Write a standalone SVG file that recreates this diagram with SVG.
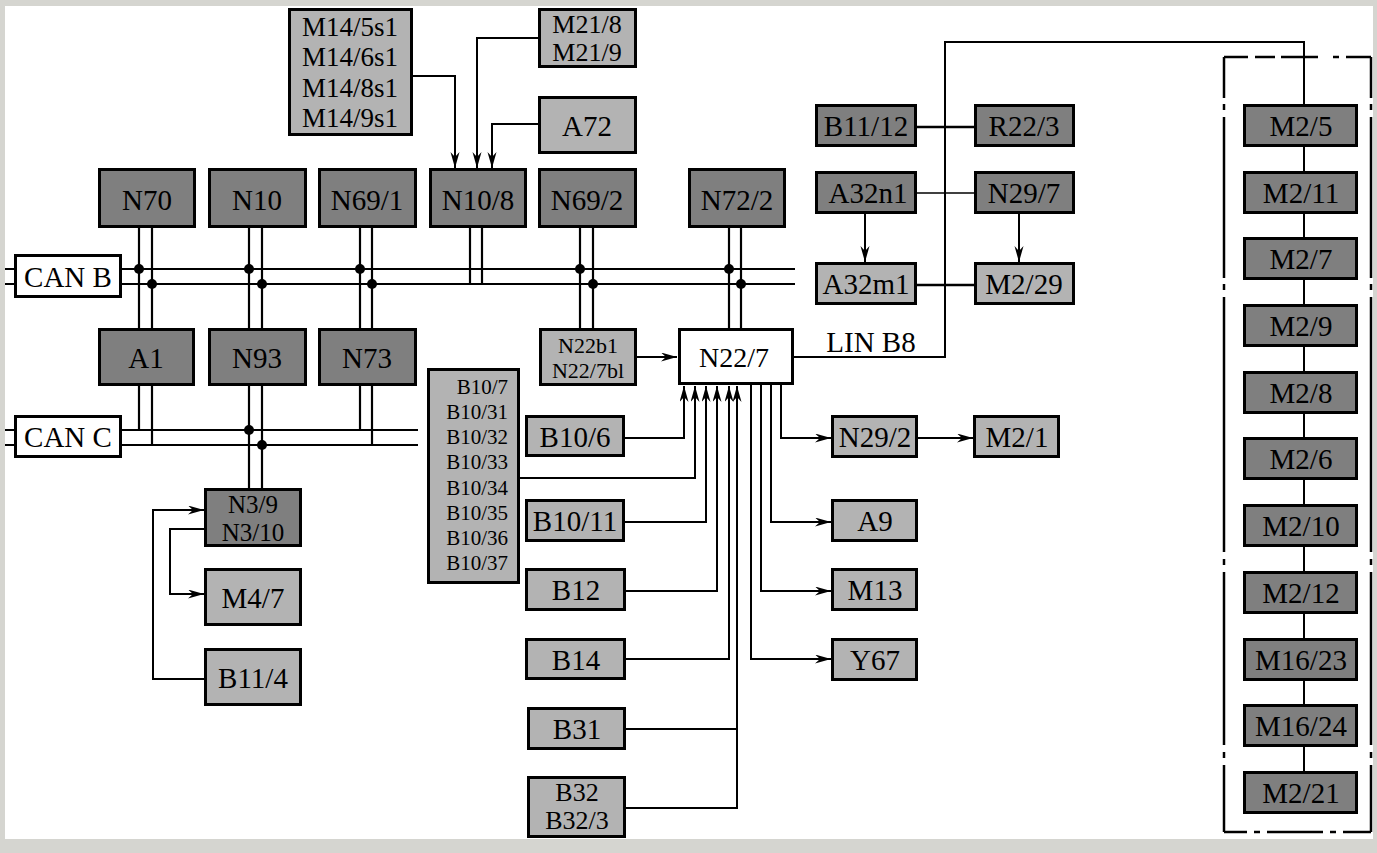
<svg xmlns="http://www.w3.org/2000/svg" width="1377" height="853" viewBox="0 0 1377 853">
<style>
.n rect{stroke:#000;stroke-width:3}
.d rect{fill:#7f7f7f}
.l rect{fill:#b3b3b3}
.w rect{fill:#fff}
text{font-family:"Liberation Serif","Times New Roman",serif;font-size:29px;fill:#000;text-anchor:middle}
.s text{font-size:22px}
.t text{font-size:21px;text-anchor:end}
.m text{font-size:26px}
.c path,.c line{fill:none;stroke:#000;stroke-width:2}
.bus line{stroke:#000;stroke-width:2.2}
.dot{fill:#000}
.frame line{stroke:#000;stroke-width:2.5}
</style>
<defs>
<marker id="ar" markerUnits="userSpaceOnUse" markerWidth="18" markerHeight="10" refX="16" refY="4.5" orient="auto">
<path d="M0,0 L16,4.5 L0,9 L5,4.5 Z" fill="#000"/>
</marker>
</defs>
<rect x="0" y="0" width="1377" height="853" fill="#d5d5d0"/>
<rect x="5" y="6" width="1368" height="833" fill="#fff"/>

<g id="frame" class="frame">
<line x1="1224" y1="57" x2="1248" y2="57"/><line x1="1255" y1="57" x2="1275" y2="57"/><line x1="1281" y1="57" x2="1318" y2="57"/><line x1="1333" y1="57" x2="1339" y2="57"/><line x1="1346" y1="57" x2="1371" y2="57"/>
<line x1="1224" y1="57" x2="1224" y2="98"/><line x1="1224" y1="104" x2="1224" y2="110"/><line x1="1224" y1="117" x2="1224" y2="278"/><line x1="1224" y1="284" x2="1224" y2="290"/><line x1="1224" y1="297" x2="1224" y2="552"/><line x1="1224" y1="559" x2="1224" y2="565"/><line x1="1224" y1="572" x2="1224" y2="745"/><line x1="1224" y1="752" x2="1224" y2="758"/><line x1="1224" y1="765" x2="1224" y2="832"/>
<line x1="1371" y1="57" x2="1371" y2="98"/><line x1="1371" y1="104" x2="1371" y2="110"/><line x1="1371" y1="117" x2="1371" y2="278"/><line x1="1371" y1="284" x2="1371" y2="290"/><line x1="1371" y1="297" x2="1371" y2="552"/><line x1="1371" y1="559" x2="1371" y2="565"/><line x1="1371" y1="572" x2="1371" y2="745"/><line x1="1371" y1="752" x2="1371" y2="758"/><line x1="1371" y1="765" x2="1371" y2="832"/>
<line x1="1224" y1="832" x2="1247" y2="832"/><line x1="1254" y1="832" x2="1260" y2="832"/><line x1="1267" y1="832" x2="1323" y2="832"/><line x1="1330" y1="832" x2="1336" y2="832"/><line x1="1343" y1="832" x2="1371" y2="832"/>
</g>

<g id="connectors" class="c">
<g class="bus">
<line x1="5" y1="269" x2="795" y2="269"/>
<line x1="5" y1="284" x2="795" y2="284"/>
<line x1="5" y1="430" x2="418" y2="430"/>
<line x1="5" y1="445" x2="418" y2="445"/>
<line x1="139" y1="228" x2="139" y2="328"/><line x1="152" y1="228" x2="152" y2="328"/>
<line x1="139" y1="386" x2="139" y2="430"/><line x1="152" y1="386" x2="152" y2="445"/>
<line x1="249" y1="228" x2="249" y2="328"/><line x1="262" y1="228" x2="262" y2="328"/>
<line x1="249" y1="386" x2="249" y2="488"/><line x1="262" y1="386" x2="262" y2="488"/>
<line x1="360" y1="228" x2="360" y2="328"/><line x1="372" y1="228" x2="372" y2="328"/>
<line x1="360" y1="386" x2="360" y2="430"/><line x1="372" y1="386" x2="372" y2="445"/>
<line x1="470" y1="228" x2="470" y2="284"/><line x1="482" y1="228" x2="482" y2="284"/>
<line x1="580" y1="228" x2="580" y2="328"/><line x1="593" y1="228" x2="593" y2="328"/>
<line x1="729" y1="228" x2="729" y2="328"/><line x1="741" y1="228" x2="741" y2="328"/>
</g>
<circle class="dot" cx="139" cy="269" r="5"/><circle class="dot" cx="152" cy="284" r="5"/>
<circle class="dot" cx="249" cy="269" r="5"/><circle class="dot" cx="262" cy="284" r="5"/>
<circle class="dot" cx="360" cy="269" r="5"/><circle class="dot" cx="372" cy="284" r="5"/>
<circle class="dot" cx="580" cy="269" r="5"/><circle class="dot" cx="593" cy="284" r="5"/>
<circle class="dot" cx="729" cy="269" r="5"/><circle class="dot" cx="741" cy="284" r="5"/>
<circle class="dot" cx="249" cy="430" r="5"/><circle class="dot" cx="262" cy="445" r="5"/>

<path d="M413,76 H455 V168" marker-end="url(#ar)"/>
<path d="M538,38 H477 V168" marker-end="url(#ar)"/>
<path d="M538,124 H492 V168" marker-end="url(#ar)"/>
<path d="M637,357 H677" marker-end="url(#ar)"/>
<path d="M625,438 H684 V386" marker-end="url(#ar)"/>
<path d="M520,478 H695 V386" marker-end="url(#ar)"/>
<path d="M625,522 H706 V386" marker-end="url(#ar)"/>
<path d="M626,591 H717 V386" marker-end="url(#ar)"/>
<path d="M626,659 H729 V386" marker-end="url(#ar)"/>
<path d="M626,729 H737"/>
<path d="M626,808 H737 V386" marker-end="url(#ar)"/>
<path d="M781,385 V438 H831" marker-end="url(#ar)"/>
<path d="M771,385 V522 H831" marker-end="url(#ar)"/>
<path d="M761,385 V591 H831" marker-end="url(#ar)"/>
<path d="M751,385 V659 H831" marker-end="url(#ar)"/>
<path d="M918,438 H973" marker-end="url(#ar)"/>
<path d="M794,357 H945 V42 H1304 V104"/>
<path d="M1304,147 V771"/>
<path d="M917,127 H974" style="stroke-width:2.5"/>
<path d="M917,193 H974" style="stroke-width:1.5"/>
<path d="M917,285 H974" style="stroke-width:2.5"/>
<path d="M865,214 V262" marker-end="url(#ar)"/>
<path d="M1019,214 V262" marker-end="url(#ar)"/>
<path d="M204,679 H153 V510 H204" marker-end="url(#ar)"/>
<path d="M204,529 H170 V594 H204" marker-end="url(#ar)"/>
</g>

<g id="CAN_B" class="n w"><rect x="15.5" y="255.5" width="105" height="41"/><text x="68" y="287">CAN B</text></g>
<g id="CAN_C" class="n w"><rect x="15.5" y="416.5" width="105" height="40"/><text x="68" y="447">CAN C</text></g>

<g id="M14" class="n l"><rect x="289.5" y="9.5" width="122" height="125"/><text x="350" y="36" style="font-size:27px">M14/5s1</text><text x="350" y="66" style="font-size:27px">M14/6s1</text><text x="350" y="97" style="font-size:27px">M14/8s1</text><text x="350" y="127" style="font-size:27px">M14/9s1</text></g>
<g id="M21" class="n l m"><rect x="539.5" y="9.5" width="96" height="57"/><text x="587" y="33">M21/8</text><text x="587" y="61">M21/9</text></g>
<g id="A72" class="n l"><rect x="539.5" y="97.5" width="96" height="55"/><text x="587" y="136">A72</text></g>

<g id="N70" class="n d"><rect x="99.5" y="169.5" width="95" height="57"/><text x="147" y="210">N70</text></g>
<g id="N10" class="n d"><rect x="209.5" y="169.5" width="96" height="57"/><text x="257" y="210">N10</text></g>
<g id="N69_1" class="n d"><rect x="319.5" y="169.5" width="96" height="57"/><text x="367" y="210">N69/1</text></g>
<g id="N10_8" class="n d"><rect x="430.5" y="169.5" width="95" height="57"/><text x="478" y="210">N10/8</text></g>
<g id="N69_2" class="n d"><rect x="539.5" y="169.5" width="96" height="57"/><text x="587" y="210">N69/2</text></g>
<g id="N72_2" class="n d"><rect x="689.5" y="169.5" width="95" height="57"/><text x="737" y="210">N72/2</text></g>

<g id="A1" class="n d"><rect x="99.5" y="329.5" width="94" height="55"/><text x="146" y="368">A1</text></g>
<g id="N93" class="n d"><rect x="209.5" y="329.5" width="96" height="55"/><text x="257" y="368">N93</text></g>
<g id="N73" class="n d"><rect x="319.5" y="329.5" width="96" height="55"/><text x="367" y="368">N73</text></g>

<g id="N3" class="n d"><rect x="205.5" y="489.5" width="95" height="56"/><text x="253" y="513" style="font-size:25px">N3/9</text><text x="253" y="541" style="font-size:25px">N3/10</text></g>
<g id="M4_7" class="n l"><rect x="205.5" y="569.5" width="95" height="55"/><text x="253" y="608">M4/7</text></g>
<g id="B11_4" class="n l"><rect x="205.5" y="649.5" width="95" height="55"/><text x="253" y="688">B11/4</text></g>

<g id="N22b1" class="n l s"><rect x="540.5" y="329.5" width="95" height="55"/><text x="588" y="353">N22b1</text><text x="588" y="378">N22/7bl</text></g>
<g id="N22_7" class="n w"><rect x="679.5" y="329.5" width="113" height="54"/><text x="734" y="367" style="font-size:28px">N22/7</text></g>

<g id="B10" class="n l t"><rect x="428.5" y="369.5" width="90" height="213"/><text x="508" y="394">B10/7</text><text x="508" y="419">B10/31</text><text x="508" y="444">B10/32</text><text x="508" y="469">B10/33</text><text x="508" y="495">B10/34</text><text x="508" y="520">B10/35</text><text x="508" y="545">B10/36</text><text x="508" y="570">B10/37</text></g>

<g id="B10_6" class="n l"><rect x="526.5" y="416.5" width="97" height="39"/><text x="575" y="447">B10/6</text></g>
<g id="B10_11" class="n l"><rect x="526.5" y="500.5" width="97" height="40"/><text x="575" y="531">B10/11</text></g>
<g id="B12" class="n l"><rect x="526.5" y="569.5" width="98" height="40"/><text x="576" y="600">B12</text></g>
<g id="B14" class="n l"><rect x="526.5" y="639.5" width="98" height="39"/><text x="576" y="670">B14</text></g>
<g id="B31" class="n l"><rect x="528.5" y="708.5" width="96" height="40"/><text x="577" y="739">B31</text></g>
<g id="B32" class="n l m"><rect x="528.5" y="777.5" width="96" height="59"/><text x="577" y="801">B32</text><text x="577" y="829">B32/3</text></g>

<g id="N29_2" class="n l"><rect x="832.5" y="416.5" width="84" height="40"/><text x="875" y="447">N29/2</text></g>
<g id="M2_1" class="n l"><rect x="974.5" y="416.5" width="84" height="40"/><text x="1017" y="447">M2/1</text></g>
<g id="A9" class="n l"><rect x="832.5" y="500.5" width="84" height="40"/><text x="875" y="531">A9</text></g>
<g id="M13" class="n l"><rect x="832.5" y="569.5" width="84" height="40"/><text x="875" y="600">M13</text></g>
<g id="Y67" class="n l"><rect x="832.5" y="639.5" width="84" height="40"/><text x="875" y="670">Y67</text></g>

<g id="B11_12" class="n d"><rect x="816.5" y="105.5" width="99" height="40"/><text x="866" y="136">B11/12</text></g>
<g id="R22_3" class="n d"><rect x="975.5" y="105.5" width="98" height="40"/><text x="1024" y="136">R22/3</text></g>
<g id="A32n1" class="n d"><rect x="816.5" y="172.5" width="99" height="40"/><text x="868" y="203">A32n1</text></g>
<g id="N29_7" class="n d"><rect x="975.5" y="172.5" width="98" height="40"/><text x="1024" y="203">N29/7</text></g>
<g id="A32m1" class="n l"><rect x="816.5" y="263.5" width="99" height="40"/><text x="866" y="294">A32m1</text></g>
<g id="M2_29" class="n l"><rect x="975.5" y="263.5" width="98" height="40"/><text x="1024" y="294">M2/29</text></g>

<text x="871" y="352">LIN B8</text>

<g id="M2_5" class="n d"><rect x="1244.5" y="105.5" width="112" height="40"/><text x="1301" y="136">M2/5</text></g>
<g id="M2_11" class="n d"><rect x="1244.5" y="172.5" width="112" height="40"/><text x="1301" y="203">M2/11</text></g>
<g id="M2_7" class="n d"><rect x="1244.5" y="238.5" width="112" height="40"/><text x="1301" y="269">M2/7</text></g>
<g id="M2_9" class="n d"><rect x="1244.5" y="305.5" width="112" height="40"/><text x="1301" y="336">M2/9</text></g>
<g id="M2_8" class="n d"><rect x="1244.5" y="372.5" width="112" height="40"/><text x="1301" y="403">M2/8</text></g>
<g id="M2_6" class="n d"><rect x="1244.5" y="438.5" width="112" height="40"/><text x="1301" y="469">M2/6</text></g>
<g id="M2_10" class="n d"><rect x="1244.5" y="505.5" width="112" height="40"/><text x="1301" y="536">M2/10</text></g>
<g id="M2_12" class="n d"><rect x="1244.5" y="572.5" width="112" height="40"/><text x="1301" y="603">M2/12</text></g>
<g id="M16_23" class="n d"><rect x="1244.5" y="639.5" width="112" height="40"/><text x="1301" y="670">M16/23</text></g>
<g id="M16_24" class="n d"><rect x="1244.5" y="705.5" width="112" height="40"/><text x="1301" y="736">M16/24</text></g>
<g id="M2_21" class="n d"><rect x="1244.5" y="772.5" width="112" height="40"/><text x="1301" y="803">M2/21</text></g>
</svg>
